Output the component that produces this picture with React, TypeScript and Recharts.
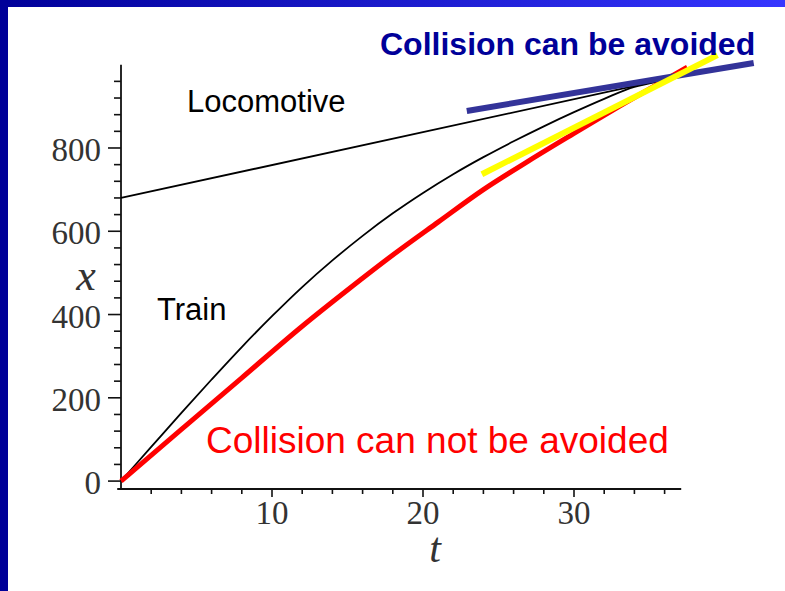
import { LineChart, Line, XAxis, YAxis, ReferenceLine } from "recharts";

// values (t = time, x = position)
const LOCO_T = [0, 36.3];
const LOCO_X = [680, 967];

const TRAIN_T = [0, 2, 4, 6, 8, 10, 12, 14, 16, 18, 20, 22, 24, 26, 28, 30, 32, 34, 35, 36.3];
const TRAIN_X = [0, 82, 164, 244, 322, 396, 466, 530, 589, 643, 692, 737, 778, 816, 852, 886, 918, 947, 955, 966];

const RED_T = [0, 4, 8, 12, 15, 18, 21, 24, 27, 30, 33, 36, 37.5];
const RED_X = [0, 124, 248, 372, 459, 543, 622, 700, 769, 835, 900, 963, 994];

const BLUE_T = [22.9, 41.9];
const BLUE_X = [889, 1004];

const YELLOW_T = [23.9, 39.5];
const YELLOW_X = [737, 1023];

const X_TICKS = [2, 4, 6, 8, 10, 12, 14, 16, 18, 20, 22, 24, 26, 28, 30, 32, 34, 36];
const X_LABELS = [10, 20, 30];
const Y_TICKS = [0, 40, 80, 120, 160, 200, 240, 280, 320, 360, 400, 440, 480, 520, 560, 600, 640, 680, 720, 760, 800, 840, 880, 920, 960];
const Y_LABELS = [0, 200, 400, 600, 800];

const SERIF = "'Liberation Serif', 'Times New Roman', serif";
const SANS = "'Liberation Sans', Arial, sans-serif";

const zip = (ts: number[], xs: number[]) => ts.map((t, i) => ({ t, x: xs[i] }));

function XTick(props: any) {
  const { x, y, payload } = props;
  const major = X_LABELS.includes(payload.value);
  return (
    <g>
      <line x1={x} y1={y} x2={x} y2={y + (major ? 8 : 5)} stroke="#111" strokeWidth={1.6} />
      {major && (
        <text x={x} y={y + 35} textAnchor="middle" fontFamily={SERIF} fontSize={33} fill="#333">
          {payload.value}
        </text>
      )}
    </g>
  );
}

function YTick(props: any) {
  const { x, y, payload } = props;
  const major = Y_LABELS.includes(payload.value);
  return (
    <g>
      <line x1={x - (major ? 13 : 7)} y1={y} x2={x} y2={y} stroke="#111" strokeWidth={1.6} />
      {major && (
        <text x={x - 20} y={y + 13} textAnchor="end" fontFamily={SERIF} fontSize={33} fill="#333">
          {payload.value}
        </text>
      )}
    </g>
  );
}

export default function App() {
  return (
    <div style={{ position: "fixed", left: 0, top: 0, width: 785, height: 591, background: "#fff", overflow: "hidden" }}>
      <div style={{ position: "absolute", left: 0, top: 0, width: 785, height: 7, background: "linear-gradient(to right, #000099, #3636ff)" }} />
      <div style={{ position: "absolute", left: 0, top: 0, width: 8, height: 591, background: "#000099" }} />

      <div style={{ position: "absolute", left: 0, top: 0 }}>
        <LineChart width={785} height={591} margin={{ top: 54.3, right: 29.8, bottom: 101, left: 120 }}>
          <XAxis
            type="number"
            dataKey="t"
            domain={[0, 42]}
            ticks={X_TICKS}
            interval={0}
            height={1}
            tickSize={0}
            tickMargin={0}
            axisLine={false}
            tickLine={false}
            tick={XTick}
          />
          <YAxis
            type="number"
            dataKey="x"
            domain={[-19, 1025]}
            ticks={Y_TICKS}
            interval={0}
            width={1}
            tickSize={0}
            tickMargin={0}
            axisLine={false}
            tickLine={false}
            tick={YTick}
          />
          <ReferenceLine segment={[{ x: -0.25, y: -19 }, { x: 37.1, y: -19 }]} stroke="#111" strokeWidth={1.8} ifOverflow="visible" />
          <ReferenceLine segment={[{ x: 0, y: -19 }, { x: 0, y: 1000 }]} stroke="#111" strokeWidth={1.8} ifOverflow="visible" />

          <Line data={zip(LOCO_T, LOCO_X)} dataKey="x" stroke="#000" strokeWidth={1.8} dot={false} isAnimationActive={false} />
          <Line data={zip(TRAIN_T, TRAIN_X)} dataKey="x" type="monotone" stroke="#000" strokeWidth={1.8} dot={false} isAnimationActive={false} />
          <Line data={zip(RED_T, RED_X)} dataKey="x" type="monotone" stroke="#ff0000" strokeWidth={5} dot={false} isAnimationActive={false} />
          <Line data={zip(BLUE_T, BLUE_X)} dataKey="x" stroke="#333399" strokeWidth={6} dot={false} isAnimationActive={false} />
          <Line data={zip(YELLOW_T, YELLOW_X)} dataKey="x" stroke="#ffff00" strokeWidth={6} dot={false} isAnimationActive={false} />
        </LineChart>
      </div>

      <svg width={785} height={591} style={{ position: "absolute", left: 0, top: 0, pointerEvents: "none" }}>
        <text x={380} y={55} fontFamily={SANS} fontWeight="bold" fontSize={32} fill="#000099">Collision can be avoided</text>
        <text x={187} y={112} fontFamily={SANS} fontSize={31} fill="#000">Locomotive</text>
        <text x={157} y={320} fontFamily={SANS} fontSize={31} fill="#000">Train</text>
        <text x={206} y={453} fontFamily={SANS} fontSize={37} fill="#ff0000">Collision can not be avoided</text>
        <text x={86} y={290} textAnchor="middle" fontFamily={SERIF} fontStyle="italic" fontSize={44} fill="#333">x</text>
        <text x={435} y={562} textAnchor="middle" fontFamily={SERIF} fontStyle="italic" fontSize={42} fill="#333">t</text>
      </svg>
    </div>
  );
}
